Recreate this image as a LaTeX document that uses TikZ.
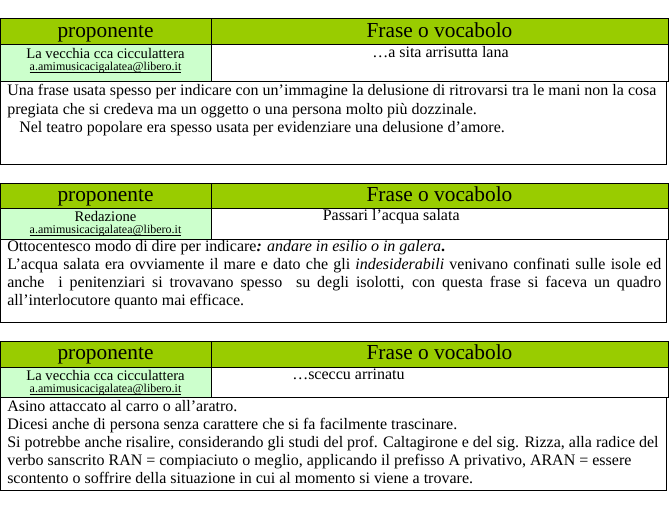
\documentclass[tikz,border=0pt]{standalone}
\usepackage{fontspec}
\setmainfont{Liberation Serif}
\usetikzlibrary{positioning}
\definecolor{headgreen}{HTML}{99CC00}
\definecolor{namegreen}{HTML}{CCFFCC}
\newcommand{\mailul}[1]{\leavevmode\setbox0\hbox{#1}\rlap{\rule[-2.1pt]{\wd0}{0.75pt}}\box0}
\tikzset{cell/.style 2 args={
    draw, rectangle,
    line width=1pt,
    inner sep=0pt,
    anchor=north west,
    minimum width=#1*0.75pt,
    minimum height=#2*0.75pt
  },
  headcell/.style 2 args={cell={#1}{#2}, fill=headgreen},
  namecell/.style 2 args={cell={#1}{#2}, fill=namegreen},
  headtext/.style={anchor=base, inner sep=0pt, font=\fontsize{16}{17}\selectfont},
  nametext/.style={anchor=base, inner sep=0pt, font=\fontsize{11}{12}\selectfont},
  frasetext/.style={anchor=base west, inner sep=0pt, font=\fontsize{12}{13}\selectfont},
  mail/.style={anchor=base, inner sep=0pt, font=\fontsize{9}{10}\selectfont},
  bodytext/.style={anchor=north west, inner sep=0pt, align=left,
    font=\fontsize{12}{13.65}\selectfont}
}

\begin{document}
\begin{tikzpicture}[x=0.75pt,y=-0.75pt]
    \useasboundingbox (0,0) rectangle (669,509);
    % first table
    \node[headcell={211}{26}] (head1a) at (0,18) {};
    \node[headcell={457}{26}] (head1b) at (211,18) {};
    \node[namecell={211}{37}] (name1a) at (0,44) {};
    \node[cell={457}{37}] (name1b) at (211,44) {};
    \node[cell={666}{83}] (body1) at (0,81) {};
    \node[headtext] (prop1) at (105.5,37.5) {proponente};
    \node[headtext] (voc1) at (439.5,37.5) {Frase o vocabolo};
    \node[nametext] (who1) at (105.5,58.5) {La vecchia cca cicculattera};
    \node[mail] (mail1) at (105.5,70.3) {\mailul{a.amimusicacigalatea@libero.it}};
    \node[frasetext] (frase1) at (372,58) {…a sita arrisutta lana};
    \node[bodytext] (text1) at (7,82.8) {\strut Una frase usata spesso per indicare con un'immagine la delusione di ritrovarsi tra le mani non la cosa\\
      pregiata che si credeva ma un oggetto o una persona molto più dozzinale.\\
      \hspace*{9pt}Nel teatro popolare era spesso usata per evidenziare una delusione d'amore.};
    % second table
    \node[headcell={211}{25}] (head2a) at (0,183) {};
    \node[headcell={457}{25}] (head2b) at (211,183) {};
    \node[namecell={211}{31}] (name2a) at (0,208) {};
    \node[cell={457}{31}] (name2b) at (211,208) {};
    \node[cell={666}{83}] (body2) at (0,239) {};
    \node[headtext] (prop2) at (105.5,202) {proponente};
    \node[headtext] (voc2) at (439.5,202) {Frase o vocabolo};
    \node[nametext] (who2) at (105.5,221.7) {Redazione};
    \node[mail] (mail2) at (105.5,233.3) {\mailul{a.amimusicacigalatea@libero.it}};
    \node[frasetext] (frase2) at (322.5,221) {Passari l'acqua salata};
    \node[bodytext, text width=654*0.75pt, align=justify] (text2) at (7,238) {\strut Ottocentesco modo di dire per indicare\textbf{\textit{:}} \textit{andare in esilio o in galera}\textbf{.}\par
      L'acqua salata era ovviamente il mare e dato che gli \textit{indesiderabili} venivano confinati sulle isole ed\linebreak
      anche\ \ i penitenziari si trovavano spesso\ \ su degli isolotti, con questa frase si faceva un quadro\linebreak
      all'interlocutore quanto mai efficace.};
    % third table
    \node[headcell={211}{26}] (head3a) at (0,341) {};
    \node[headcell={457}{26}] (head3b) at (211,341) {};
    \node[namecell={211}{30}] (name3a) at (0,367) {};
    \node[cell={457}{30}] (name3b) at (211,367) {};
    \node[cell={666}{93}] (body3) at (0,397) {};
    \node[headtext] (prop3) at (105.5,360) {proponente};
    \node[headtext] (voc3) at (439.5,360) {Frase o vocabolo};
    \node[nametext] (who3) at (105.5,380.7) {La vecchia cca cicculattera};
    \node[mail] (mail3) at (105.5,392.5) {\mailul{a.amimusicacigalatea@libero.it}};
    \node[frasetext] (frase3) at (292,380) {…sceccu arrinatu};
    \node[bodytext] (text3) at (7,398) {\strut Asino attaccato al carro o all'aratro.\\
      Dicesi anche di persona senza carattere che si fa facilmente trascinare.\\
      Si potrebbe anche risalire, considerando gli studi del prof. Caltagirone e del sig. Rizza, alla radice del\\
      verbo sanscrito RAN = compiaciuto o meglio, applicando il prefisso A privativo, ARAN = essere\\
      scontento o soffrire della situazione in cui al momento si viene a trovare.};
\end{tikzpicture}
\end{document}
